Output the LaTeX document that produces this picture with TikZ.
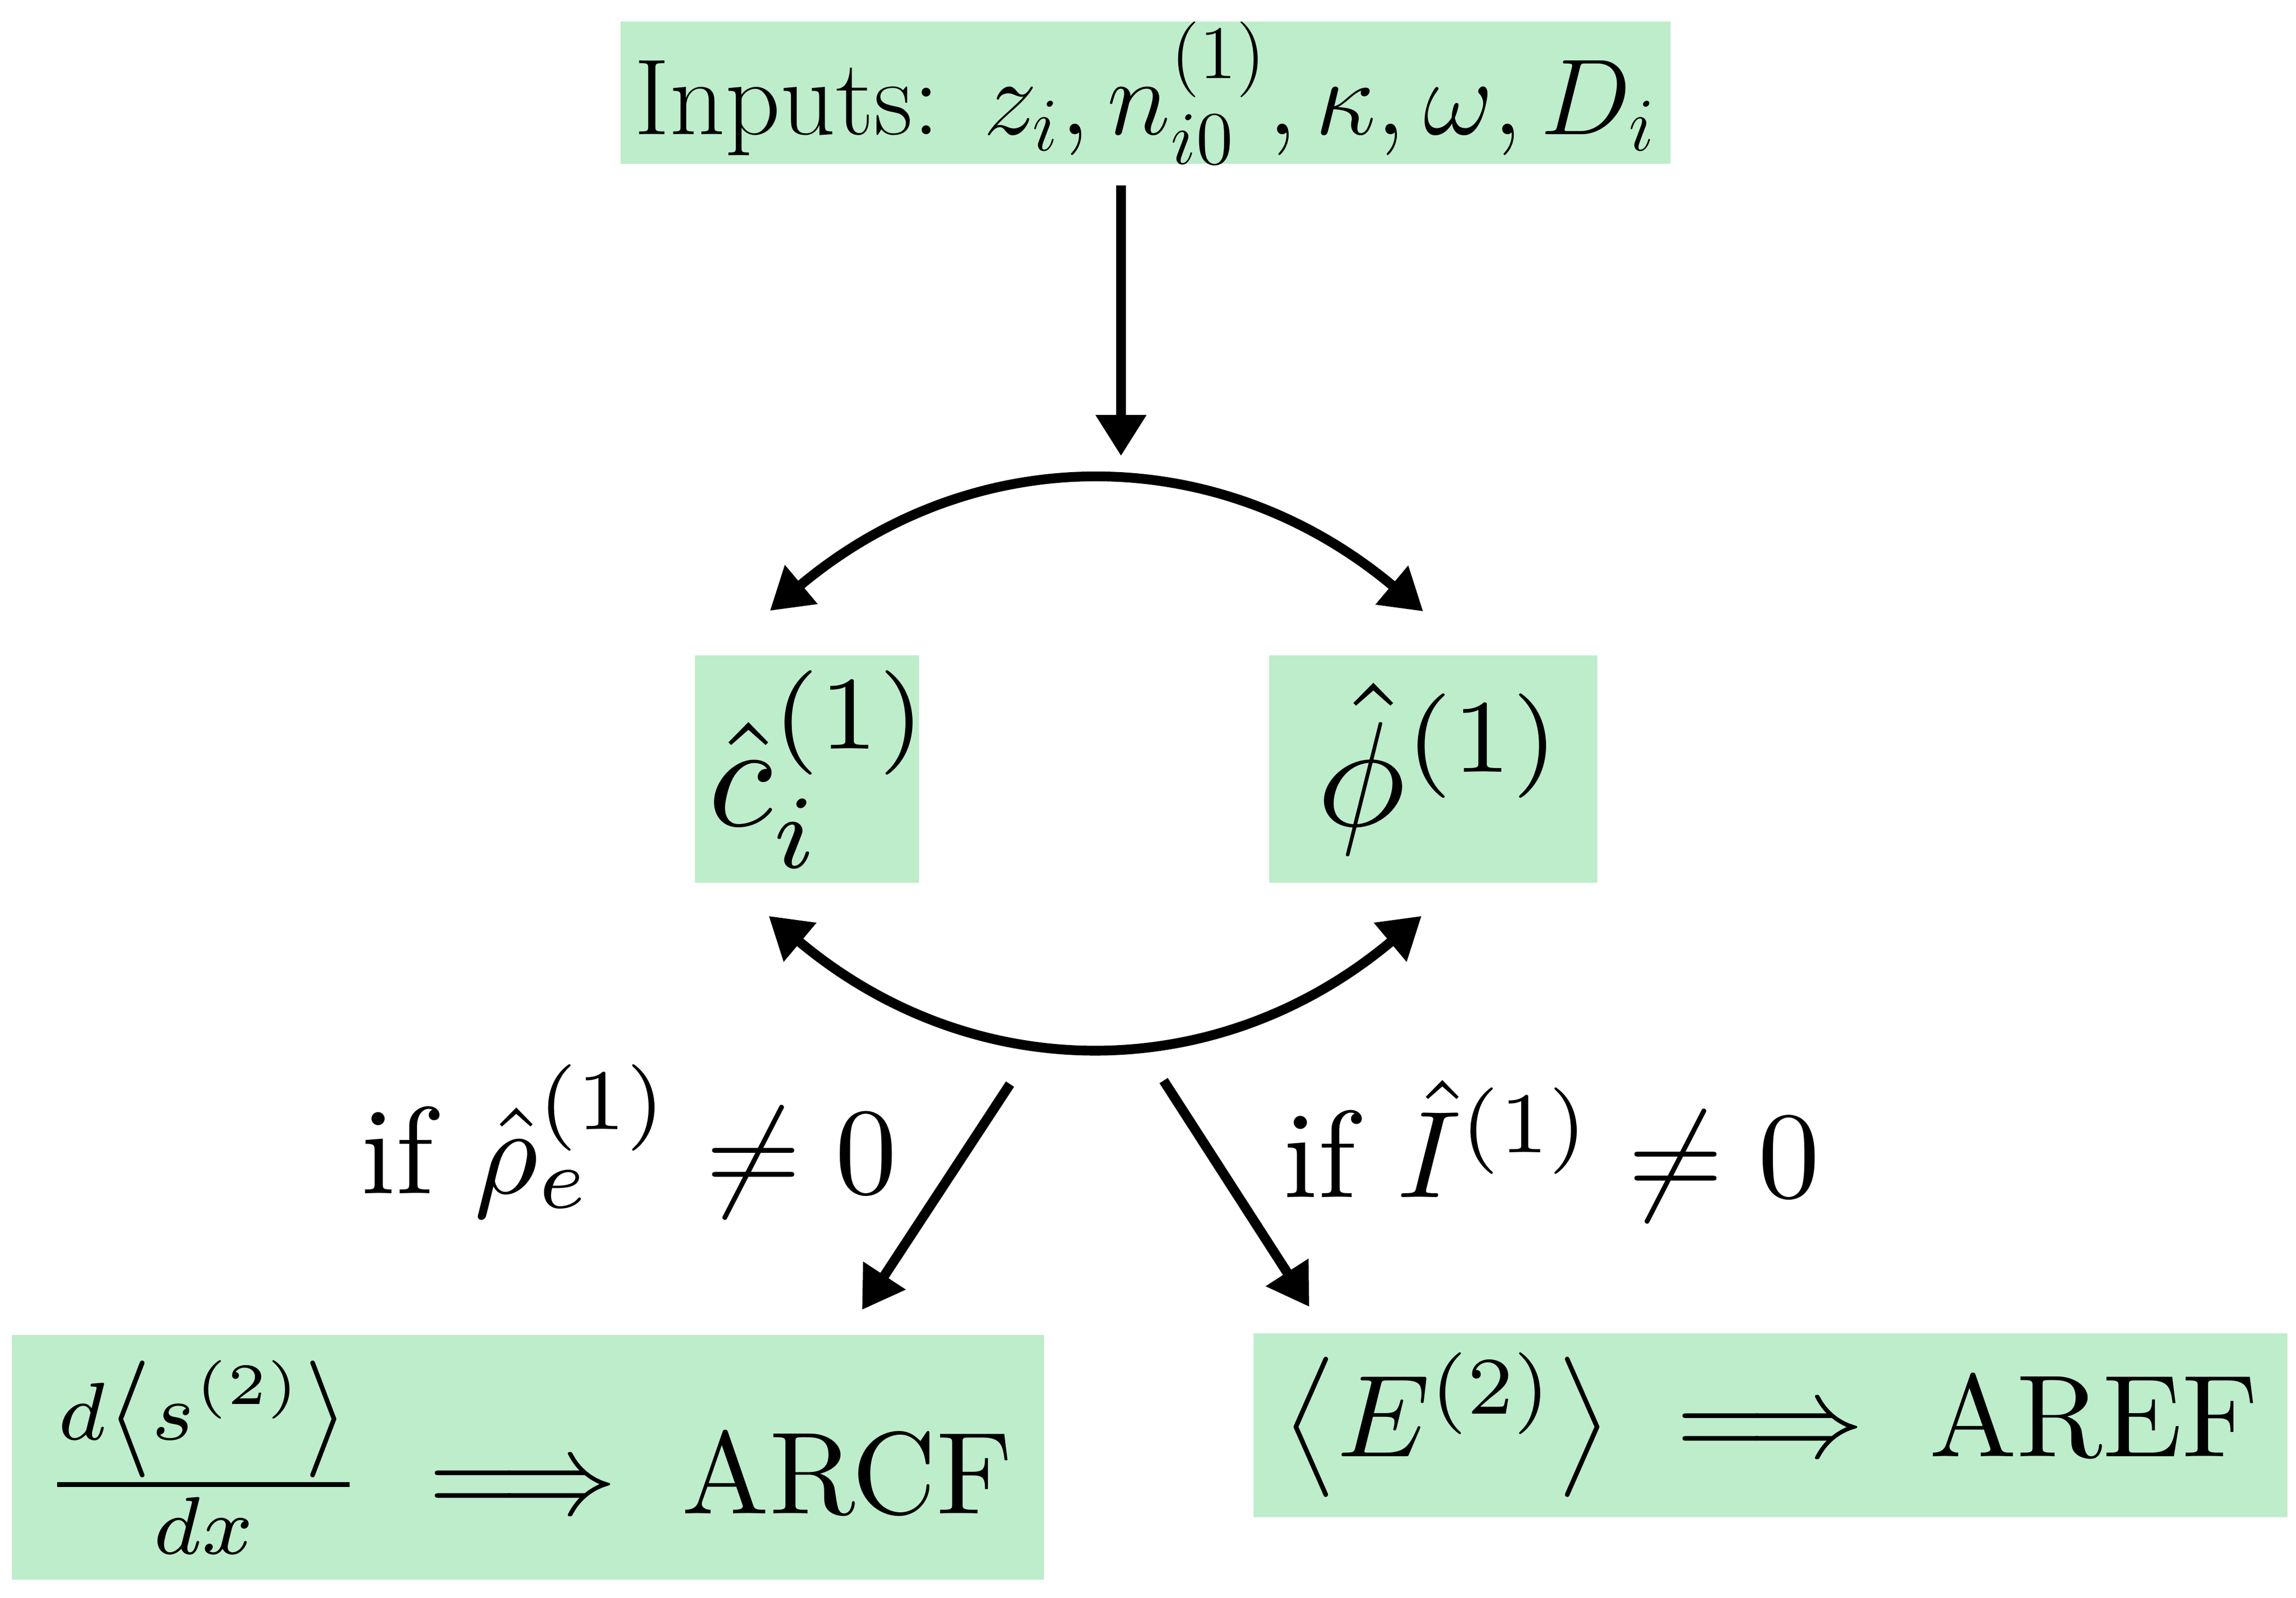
\RequirePackage{fix-cm}
\documentclass[tikz,border=0pt]{standalone}
\usepackage{amsmath}
\usetikzlibrary{arrows.meta}
\definecolor{boxgreen}{RGB}{190,237,203}
\begin{document}
\begin{tikzpicture}[
  box/.style={fill=boxgreen,inner sep=0pt},
  cond/.style={anchor=base west,inner sep=0pt},
  link/.style={line width=1.9pt,-{Triangle[length=2.8mm,width=3.3mm]}},
  both/.style={line width=1.9pt,{Triangle[length=2.8mm,width=3.3mm]}-{Triangle[length=2.8mm,width=3.3mm]}}]
 \useasboundingbox (0,0) rectangle (15.681,10.909);
 \node[box,minimum width=7.17cm,minimum height=0.95cm,font=\fontsize{21}{25}\selectfont] (inp) at (7.824,10.275) {Inputs: $z_i, n_{i0}^{(1)}, \kappa, \omega, D_i$};
 \node[box,minimum width=1.53cm,minimum height=1.55cm] (ci) at (5.513,5.659) {\makebox[0pt]{\hspace*{0.18cm}\scalebox{2.9}{$\hat{c}_i^{(1)}$}}};
 \node[box,minimum width=2.24cm,minimum height=1.55cm] (phi) at (9.789,5.659) {\makebox[0pt]{\hspace*{0.11cm}\scalebox{2.9}{$\hat{\phi}^{(1)}$}}};
 \node[box,minimum width=7.05cm,minimum height=1.67cm] (arcf) at (3.606,0.960) {\scalebox{2.27}{$\frac{d\left\langle s^{(2)}\right\rangle}{dx} \implies \text{ARCF}$}};
 \node[box,minimum width=7.06cm,minimum height=1.255cm] (aref) at (12.092,1.180) {\scalebox{2.27}{$\left\langle E^{(2)}\right\rangle \implies \text{AREF}$}};
 \node[cond] (rho) at (2.46,2.76) {\scalebox{2.4}{if $\hat{\rho}_e^{(1)} \neq 0$}};
 \node[cond] (cur) at (8.76,2.734) {\scalebox{2.4}{if $\hat{I}^{(1)} \neq 0$}};
 \coordinate (split) at (7.656,7.796);
 \coordinate (lsplit) at (6.898,3.508);
 \coordinate (rsplit) at (7.947,3.532);
 \draw[link] ([xshift=-0.168cm,yshift=-0.139cm]inp.south) -- (split);
 \draw[both] ([xshift=-0.255cm,yshift=0.298cm]ci.north) .. controls +(40:1.82) and +(140:1.82) .. ([xshift=-0.069cm,yshift=0.294cm]phi.north);
 \draw[both] ([xshift=-0.263cm,yshift=-0.221cm]ci.south) .. controls +(-40:1.82) and +(-140:1.82) .. ([xshift=-0.08cm,yshift=-0.221cm]phi.south);
 \draw[link] (lsplit) -- ([xshift=-1.251cm,yshift=0.165cm]arcf.north east);
 \draw[link] (rsplit) -- ([xshift=0.387cm,yshift=0.173cm]aref.north west);
\end{tikzpicture}
\end{document}
